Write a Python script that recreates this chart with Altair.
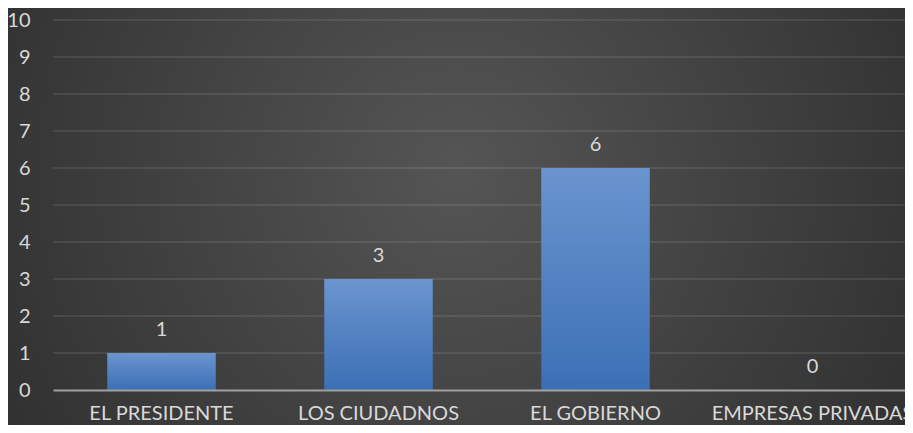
import altair as alt
import pandas as pd

categories = ["EL PRESIDENTE", "LOS CIUDADNOS", "EL GOBIERNO", "EMPRESAS PRIVADAS"]
values = [1, 3, 6, 0]
y_ticks = list(range(0, 11))

df = pd.DataFrame({"cat": categories, "val": values})
grid_df = pd.DataFrame({"val": y_ticks[1:]})

text_color = "#d9d9d9"
font = "Lato"

bar_gradient = alt.LinearGradient(
    gradient="linear", x1=0, y1=0, x2=0, y2=1,
    stops=[alt.GradientStop(color="#6b95cf", offset=0),
           alt.GradientStop(color="#3b6fb5", offset=1)],
)

bg_gradient = alt.RadialGradient(
    gradient="radial", x1=0.5, y1=0.45, r1=0, x2=0.5, y2=0.45, r2=0.75,
    stops=[alt.GradientStop(color="#555555", offset=0),
           alt.GradientStop(color="#262626", offset=1)],
)

y_scale = alt.Scale(domain=[0, 10], nice=False)
x_scale = alt.Scale(range=[0, 868], paddingInner=0.5, paddingOuter=0.25)

x_axis = alt.Axis(labelAngle=0, labelFontSize=20, labelColor=text_color, labelFont=font,
                  labelPadding=13, ticks=False, domain=True, domainColor="#a0a0a0",
                  domainWidth=2, labelLimit=400, grid=False, zindex=1)
y_axis = alt.Axis(values=y_ticks, labelFontSize=20, labelColor=text_color, labelFont=font,
                  labelPadding=23, ticks=False, domain=False, grid=False, zindex=1,
                  labelOverlap=False, labelBound=False, labelFlush=False)

x_enc = alt.X("cat:N", sort=categories, title=None, scale=x_scale, axis=x_axis)
y_enc = alt.Y("val:Q", title=None, scale=y_scale, axis=y_axis)

background = alt.Chart(alt.Data(values=[{}])).mark_rect(
    fill=bg_gradient, clip=False
).encode(x=alt.value(-45), x2=alt.value(852), y=alt.value(-12), y2=alt.value(405))

grid = alt.Chart(grid_df).mark_rule(color="#ffffff", opacity=0.12, strokeWidth=1.5).encode(
    y=y_enc, x=alt.value(0), x2=alt.value(852)
)

bars = alt.Chart(df).mark_bar(fill=bar_gradient).encode(x=x_enc, y=y_enc)
labels = alt.Chart(df).mark_text(
    baseline="alphabetic", dy=-17, fontSize=20, font=font, color=text_color
).encode(x=x_enc, y=y_enc, text="val:Q")

chart = (
    alt.layer(background, grid, bars, labels)
    .properties(width=852, height=370,
                autosize=alt.AutoSizeParams(type="none"),
                padding={"left": 45, "top": 12, "right": 0, "bottom": 35},
                background="#2a2a2a")
    .configure_view(stroke=None)
)

chart.save("out.html", embed_options={"renderer": "svg", "actions": False})
